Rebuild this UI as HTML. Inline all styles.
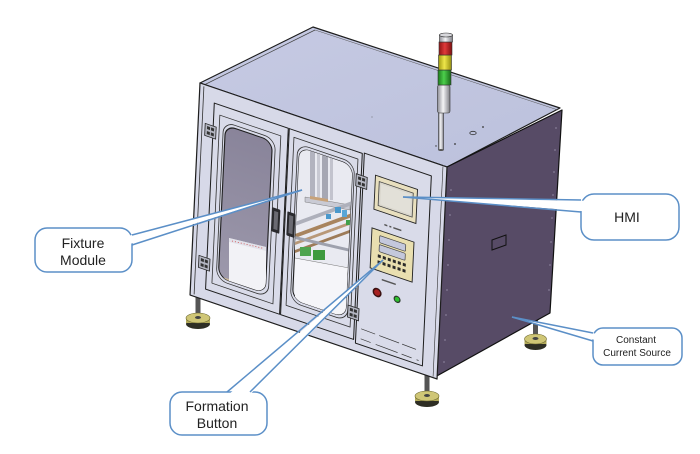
<!DOCTYPE html>
<html><head><meta charset="utf-8"><style>
html,body{margin:0;padding:0;background:#fff;}
svg{display:block}
text{font-family:"Liberation Sans",sans-serif;fill:#222}
</style></head><body>
<svg width="700" height="454" viewBox="0 0 700 454" xmlns="http://www.w3.org/2000/svg">
<defs>
 <linearGradient id="glassL" x1="0" y1="0" x2="0" y2="1">
   <stop offset="0" stop-color="#89849a"/><stop offset="1" stop-color="#9c98ab"/>
 </linearGradient>
 <linearGradient id="cyl" x1="0" y1="0" x2="1" y2="0">
   <stop offset="0" stop-color="#8e8e96"/><stop offset=".45" stop-color="#f4f4f6"/><stop offset="1" stop-color="#7e7e86"/>
 </linearGradient>
 <linearGradient id="red" x1="0" y1="0" x2="1" y2="0">
   <stop offset="0" stop-color="#8e1414"/><stop offset=".45" stop-color="#e03a3a"/><stop offset="1" stop-color="#7e1010"/>
 </linearGradient>
 <linearGradient id="yel" x1="0" y1="0" x2="1" y2="0">
   <stop offset="0" stop-color="#a09a10"/><stop offset=".45" stop-color="#eee64a"/><stop offset="1" stop-color="#948e10"/>
 </linearGradient>
 <linearGradient id="grn" x1="0" y1="0" x2="1" y2="0">
   <stop offset="0" stop-color="#1d7a1d"/><stop offset=".45" stop-color="#4ccf4c"/><stop offset="1" stop-color="#186818"/>
 </linearGradient>
 <linearGradient id="top" x1="0" y1="0" x2="1" y2="1">
   <stop offset="0" stop-color="#c6cae3"/><stop offset="1" stop-color="#bcc1dc"/>
 </linearGradient>
 <clipPath id="cg1"><rect transform="matrix(1,0.34,-0.047,1,200,83)" x="27" y="33" width="47" height="152" rx="10"/></clipPath>
 <clipPath id="cg2"><rect transform="matrix(1,0.34,-0.047,1,200,83)" x="101" y="30" width="53" height="152" rx="10"/></clipPath>
</defs>

<!-- feet -->
<g>
 <rect x="195.5" y="295" width="5" height="22" fill="#555"/>
 <ellipse cx="198" cy="324" rx="12" ry="5" fill="#2e2e24"/>
 <rect x="186" y="318" width="24" height="5" fill="#b3ab5a"/>
 <ellipse cx="198" cy="318" rx="12" ry="5" fill="#cfc676" stroke="#6b6630" stroke-width=".6"/>
 <ellipse cx="198" cy="317.5" rx="3" ry="1.5" fill="#444"/>

 <rect x="533" y="313" width="5" height="24" fill="#555"/>
 <ellipse cx="535.5" cy="345" rx="11" ry="5" fill="#2e2e24"/>
 <rect x="524.5" y="339" width="22" height="5" fill="#b3ab5a"/>
 <ellipse cx="535.5" cy="339" rx="11" ry="5" fill="#cfc676" stroke="#6b6630" stroke-width=".6"/>
 <ellipse cx="535.5" cy="338.5" rx="3" ry="1.5" fill="#444"/>

 <rect x="424.5" y="375" width="5" height="20" fill="#555"/>
 <ellipse cx="427" cy="402" rx="12" ry="5" fill="#2e2e24"/>
 <rect x="415" y="396" width="24" height="5" fill="#b3ab5a"/>
 <ellipse cx="427" cy="396" rx="12" ry="5" fill="#cfc676" stroke="#6b6630" stroke-width=".6"/>
 <ellipse cx="427" cy="395.5" rx="3" ry="1.5" fill="#444"/>
</g>

<!-- top face -->
<polygon points="200,83 313,27 560,108 447,167" fill="url(#top)" stroke="#1e1e1e" stroke-width="1.2" stroke-linejoin="round"/>
<line x1="204" y1="85" x2="315" y2="30" stroke="#444" stroke-width=".7"/>
<line x1="315" y1="30" x2="558" y2="110" stroke="#555" stroke-width=".5"/>
<ellipse cx="473" cy="133" rx="3.2" ry="1.7" fill="none" stroke="#333" stroke-width=".8"/>
<circle cx="483" cy="127" r=".9" fill="#333"/>
<circle cx="455" cy="144" r=".9" fill="#333"/>
<circle cx="436" cy="146" r=".7" fill="#333"/>
<circle cx="372" cy="117" r=".5" fill="#555"/>

<!-- side face -->
<polygon points="447,167 562,110 550,313 435,377" fill="#574b66" stroke="#111" stroke-width="1.2" stroke-linejoin="round"/>
<line x1="443" y1="165" x2="433" y2="377" stroke="#e6e6ef" stroke-width="2"/>
<polygon points="492,240 506,235 506,245 492,250" fill="none" stroke="#111" stroke-width="1"/>
<g fill="#b8b0c8">
 <circle cx="451" cy="190" r=".6"/><circle cx="450" cy="215" r=".6"/><circle cx="449" cy="240" r=".6"/><circle cx="448" cy="265" r=".6"/><circle cx="447" cy="290" r=".6"/><circle cx="446" cy="315" r=".6"/><circle cx="445" cy="340" r=".6"/><circle cx="444" cy="362" r=".6"/>
 <circle cx="556" cy="128" r=".6"/><circle cx="555" cy="150" r=".6"/><circle cx="554" cy="172" r=".6"/><circle cx="553" cy="195" r=".6"/><circle cx="552" cy="218" r=".6"/><circle cx="551" cy="242" r=".6"/><circle cx="550" cy="265" r=".6"/><circle cx="549" cy="290" r=".6"/>
</g>

<!-- front face -->
<g transform="matrix(1,0.34,-0.047,1,200,83)" stroke-linejoin="round">
 <rect x="0" y="0" width="247" height="212" fill="#d7d9e8" stroke="#1e1e1e" stroke-width="1.2"/>
 <line x1="4" y1="2" x2="4" y2="210" stroke="#333" stroke-width=".8"/>
 <line x1="243" y1="1" x2="243" y2="211" stroke="#333" stroke-width=".6"/>
 <!-- left door -->
 <rect x="15" y="15" width="74" height="186" fill="#d9dbe9" stroke="#1e1e1e" stroke-width="1"/>
 <rect x="21" y="25" width="61" height="168" fill="none" stroke="#333" stroke-width=".8"/>
 <rect x="25" y="30" width="52" height="158" rx="11" fill="none" stroke="#333" stroke-width=".8"/>
 <rect x="27" y="33" width="47" height="152" rx="10" fill="url(#glassL)" stroke="#1e1e1e" stroke-width="1.1"/>
 <!-- middle door -->
 <rect x="90" y="15" width="73" height="186" fill="#d9dbe9" stroke="#1e1e1e" stroke-width="1"/>
 <rect x="95" y="22" width="64" height="168" fill="none" stroke="#333" stroke-width=".8"/>
 <rect x="99" y="27" width="57" height="158" rx="11" fill="none" stroke="#333" stroke-width=".8"/>
 <rect x="101" y="30" width="53" height="152" rx="10" fill="#ecedf3" stroke="#1e1e1e" stroke-width="1.1"/>
 <!-- right panel -->
 <rect x="165" y="14" width="67" height="190" fill="#d9dbe9" stroke="#1e1e1e" stroke-width="1"/>
 <line x1="170" y1="188" x2="228" y2="190" stroke="#333" stroke-width=".7" stroke-dasharray="14 4 20 3"/>
 <line x1="170" y1="198" x2="228" y2="200" stroke="#333" stroke-width=".7" stroke-dasharray="10 5 22 4"/>
</g>

<!-- left glass interior -->
<g clip-path="url(#cg1)">
 <polygon points="229,238 266,247 266,292 229,290" fill="#f2f2f6"/>
 <polygon points="229,238 266,247 266,251 229,242" fill="#e2e2ea"/>
 <line x1="232" y1="241" x2="264" y2="248.5" stroke="#d04848" stroke-width=".8" stroke-dasharray="1 2"/>
 <polygon points="218,276 229,279 229,292 218,292" fill="#cbb99a"/>
</g>

<!-- middle glass interior -->
<g clip-path="url(#cg2)">
 <rect x="295" y="145" width="65" height="180" fill="#e9eaf1"/>
 <rect x="310" y="150" width="5" height="52" fill="#b2b3bf"/>
 <rect x="317" y="150" width="3" height="52" fill="#c8c9d3"/>
 <rect x="322" y="150" width="6" height="50" fill="#a6a7b3"/>
 <rect x="330" y="152" width="3" height="48" fill="#c2c3cd"/>
 <polygon points="305,197 350,205 350,210 305,202" fill="#c9cad4" stroke="#666" stroke-width=".4"/>
 <polygon points="310,196 328,199 328,202 310,199" fill="#c7a27a"/>
 <polygon points="295,222 355,200 355,204 295,226" fill="#aeb0bb"/>
 <polygon points="295,234 355,212 355,216 295,238" fill="#a8845e"/>
 <polygon points="295,242 355,220 355,223 295,245" fill="#b89878"/>
 <polygon points="295,250 355,228 355,231 295,253" fill="#9d7b58"/>
 <polygon points="295,236 355,250 355,253 295,239" fill="#9ea1ad"/>
 <rect x="335" y="207" width="6" height="6" fill="#4a98cc"/>
 <rect x="342" y="210" width="5" height="7" fill="#5aa6d6"/>
 <rect x="326" y="214" width="5" height="5" fill="#4a98cc"/>
 <rect x="346" y="220" width="5" height="5" fill="#3fa04a"/>
 <rect x="300" y="247" width="11" height="9" fill="#4fa44f"/>
 <rect x="313" y="250" width="12" height="10" fill="#3e9a3e"/>
 <polygon points="295,258 360,270 360,330 295,330" fill="#f5f5f9"/>
 <line x1="295" y1="258" x2="360" y2="270" stroke="#777" stroke-width=".6"/>
</g>

<!-- handles -->
<g transform="matrix(1,0.34,-0.047,1,200,83)">
 <rect x="77" y="98" width="8" height="24" rx="1" fill="#2a2a2e"/>
 <rect x="79" y="101" width="4" height="18" fill="#6a6a72"/>
 <rect x="92" y="97" width="8" height="24" rx="1" fill="#2a2a2e"/>
 <rect x="94" y="100" width="4" height="18" fill="#6a6a72"/>
 <!-- hinges -->
 <g fill="#b4b6c2" stroke="#222" stroke-width=".8">
  <rect x="7" y="38" width="11" height="12"/>
  <rect x="7" y="170" width="11" height="12"/>
  <rect x="158" y="37" width="11" height="12"/>
  <rect x="156" y="169" width="11" height="12"/>
 </g>
 <g fill="#333">
  <rect x="9" y="40" width="3" height="3"/><rect x="13" y="40" width="3" height="3"/><rect x="9" y="45" width="3" height="3"/><rect x="13" y="45" width="3" height="3"/>
  <rect x="9" y="172" width="3" height="3"/><rect x="13" y="172" width="3" height="3"/><rect x="9" y="177" width="3" height="3"/><rect x="13" y="177" width="3" height="3"/>
  <rect x="160" y="39" width="3" height="3"/><rect x="164" y="39" width="3" height="3"/><rect x="160" y="44" width="3" height="3"/><rect x="164" y="44" width="3" height="3"/>
  <rect x="158" y="171" width="3" height="3"/><rect x="162" y="171" width="3" height="3"/><rect x="158" y="176" width="3" height="3"/><rect x="162" y="176" width="3" height="3"/>
 </g>
 <!-- HMI -->
 <rect x="177" y="32" width="42" height="34" fill="#e8dfbe" stroke="#222" stroke-width=".9"/>
 <rect x="181" y="37" width="34" height="24" fill="#d9d6cc" stroke="#444" stroke-width=".8"/>
 <rect x="183" y="39" width="30" height="20" fill="#e2e0d8"/>
 <!-- tiny labels -->
 <g fill="#555">
  <rect x="188" y="77" width="3" height="1.5"/><rect x="193" y="77" width="2" height="1.5"/><rect x="197" y="77" width="8" height="1.5"/>
  <rect x="188" y="132" width="14" height="1.5"/>
 </g>
 <!-- button panel -->
 <rect x="176" y="85" width="42" height="40" fill="#e9dfb0" stroke="#222" stroke-width=".9"/>
 <rect x="184" y="90" width="26" height="7" rx="1" fill="#c4c8dc" stroke="#444" stroke-width=".7"/>
 <rect x="184" y="99" width="26" height="7" rx="1" fill="#c4c8dc" stroke="#444" stroke-width=".7"/>
 <g fill="#2a2a2a">
  <rect x="183" y="109" width="3" height="3"/><rect x="188" y="109" width="3" height="3"/><rect x="193" y="109" width="3" height="3"/><rect x="198" y="109" width="3" height="3"/><rect x="203" y="109" width="3" height="3"/><rect x="208" y="109" width="3" height="3"/>
  <rect x="183" y="115" width="3" height="3"/><rect x="188" y="115" width="3" height="3"/><rect x="193" y="115" width="3" height="3"/><rect x="198" y="115" width="3" height="3"/><rect x="203" y="115" width="3" height="3"/><rect x="208" y="115" width="3" height="3"/>
 </g>
 <circle cx="184" cy="147" r="4.5" fill="#3a1010"/>
 <circle cx="184" cy="147" r="3" fill="#a62020"/>
 <circle cx="204" cy="147" r="3.5" fill="#2a3a2a"/>
 <circle cx="204" cy="147" r="2.3" fill="#2fc02f"/>
</g>

<!-- signal tower -->
<g stroke="#333" stroke-width=".6">
 <rect x="438.5" y="112" width="5" height="38" fill="url(#cyl)"/>
 <rect x="437.5" y="85" width="12.5" height="28" rx="2" fill="url(#cyl)"/>
 <rect x="438" y="70" width="13" height="15" fill="url(#grn)"/>
 <rect x="438.5" y="55" width="13" height="15" fill="url(#yel)"/>
 <rect x="439" y="42" width="13" height="13" fill="url(#red)"/>
 <rect x="439.5" y="35" width="13" height="7" fill="url(#cyl)"/>
 <ellipse cx="446" cy="35" rx="6.5" ry="2" fill="#d8d8dc"/>
</g>
<ellipse cx="441" cy="150" rx="2.5" ry="1" fill="#555"/>

<!-- callouts -->
<g stroke="#5b8fc7" stroke-width="1.5" fill="#fff">
 <rect x="35" y="228" width="97" height="44" rx="12"/>
 <polygon points="129,235.7 302,190 129,244.3" stroke="none"/>
 <line x1="132" y1="235" x2="302" y2="190"/>
 <line x1="132" y1="245" x2="302" y2="190"/>

 <rect x="170" y="392" width="97" height="43" rx="12"/>
 <polygon points="228,395 383,260 249.5,395" stroke="none"/>
 <line x1="227" y1="392" x2="383" y2="260"/>
 <line x1="250" y1="392" x2="383" y2="260"/>

 <rect x="581" y="194" width="98" height="46" rx="13"/>
 <polygon points="584,200.7 403,197 584,211.3" stroke="none"/>
 <line x1="581" y1="200" x2="403" y2="197"/>
 <line x1="581" y1="212" x2="403" y2="197"/>

 <rect x="593" y="328" width="89" height="37" rx="10"/>
 <polygon points="596,333.7 512,317 596,340.3" stroke="none"/>
 <line x1="593" y1="333" x2="512" y2="317"/>
 <line x1="593" y1="341" x2="512" y2="317"/>
</g>
<g text-anchor="middle">
 <text x="83" y="248" font-size="14">Fixture</text>
 <text x="83" y="265" font-size="14">Module</text>
 <text x="217" y="411" font-size="14">Formation</text>
 <text x="217" y="428" font-size="14">Button</text>
 <text x="627" y="222" font-size="14">HMI</text>
 <text x="636" y="343" font-size="10">Constant</text>
 <text x="637" y="356" font-size="10">Current Source</text>
</g>
</svg>
</body></html>
